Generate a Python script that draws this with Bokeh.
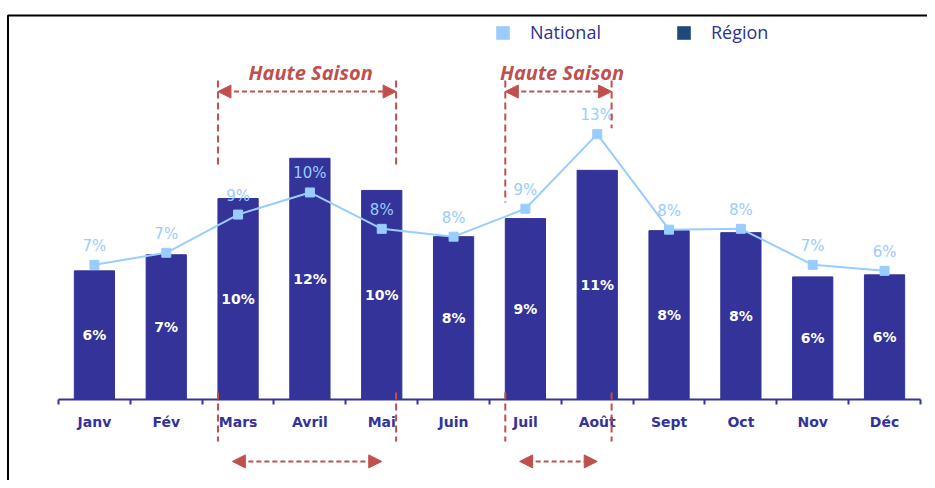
import numpy as np
from bokeh.plotting import figure
from bokeh.models import (Range1d, LinearAxis, FixedTicker, ColumnDataSource, Legend,
                          LegendItem, Arrow, NormalHead, Label, BoxAnnotation)
from bokeh.core.properties import value
from bokeh.embed import file_html
from bokeh.resources import INLINE

# ---- data ----
months = ["Janv", "Fév", "Mars", "Avril", "Mai", "Juin", "Juil", "Août", "Sept", "Oct", "Nov", "Déc"]
region = [6.4, 7.2, 10.0, 12.0, 10.4, 8.1, 9.0, 11.4, 8.4, 8.3, 6.1, 6.2]
national = [6.7, 7.3, 9.2, 10.3, 8.49, 8.1, 9.49, 13.2, 8.45, 8.49, 6.7, 6.4]
seasons = [("Mars", "Mai"), ("Juil", "Août")]
season_label = "Haute Saison"

# ---- styles ----
NAVY = "#333399"
LIGHT = "#99CCFF"
RED = "#C0504D"
LEG_REG = "#1F497D"

x = list(np.arange(len(months)) + 0.5)
src = ColumnDataSource(dict(
    x=x, region=region, national=national,
    rmid=[v / 2 for v in region],
    rlab=[f"{round(v)}%" for v in region],
    nlab=[f"{round(v)}%" for v in national],
))

p = figure(width=927, height=480, x_range=Range1d(-0.8075, 12.098), y_range=Range1d(-4.03, 19.85),
           output_backend="svg", toolbar_location=None,
           x_axis_location=None, y_axis_location=None,
           min_border_left=0, min_border_right=0, min_border_top=0, min_border_bottom=0)
p.outline_line_color = None
p.grid.visible = False
p.background_fill_color = "white"
p.border_fill_color = "white"

# frame border (top and left only visible)
p.add_layout(BoxAnnotation(left=-0.703, right=14, top=19.1, bottom=-6, fill_alpha=0,
                           line_color="black", line_alpha=1.0, line_width=2))

xaxis = LinearAxis(ticker=FixedTicker(ticks=x, minor_ticks=list(range(len(months) + 1))),
                   major_label_overrides={float(xx): m for xx, m in zip(x, months)},
                   fixed_location=0, bounds=(0, len(months)))
xaxis.axis_line_color = NAVY
xaxis.axis_line_width = 2
xaxis.major_tick_out = 0
xaxis.major_tick_in = 0
xaxis.minor_tick_out = 5
xaxis.minor_tick_in = 0
xaxis.minor_tick_line_color = NAVY
xaxis.minor_tick_line_width = 2
xaxis.major_label_standoff = 10
xaxis.major_label_text_color = NAVY
xaxis.major_label_text_font = "DejaVu Sans"
xaxis.major_label_text_font_size = "14px"
xaxis.major_label_text_font_style = "bold"
p.add_layout(xaxis, "below")

# ---- season annotations ----
top_y, arrow_y, text_y = 15.87, 15.32, 16.27
top_stop = [[11.6, 11.6], [9.8, 13.5]]
bot_top, bot_bottom, bot_arrow_y = 0.35, -2.09, -3.08
for (s, e), stops in zip(seasons, top_stop):
    x0 = months.index(s) + 0.22
    x1 = months.index(e) + 1 - 0.30
    for xx, stop in zip((x0, x1), stops):
        p.add_layout(Arrow(x_start=xx, y_start=top_y, x_end=xx, y_end=stop, end=None,
                           line_color=RED, line_width=2, line_dash="7 4"))
        p.add_layout(Arrow(x_start=xx, y_start=bot_top, x_end=xx, y_end=bot_bottom, end=None,
                           line_color=RED, line_width=2, line_dash="7 4"))
    p.add_layout(Arrow(x_start=x0, y_start=arrow_y, x_end=x1, y_end=arrow_y,
                       start=NormalHead(size=13, fill_color=RED, line_color=RED),
                       end=NormalHead(size=13, fill_color=RED, line_color=RED),
                       line_color=RED, line_width=2, line_dash="5 3"))
    p.add_layout(Arrow(x_start=x0 + 0.2, y_start=bot_arrow_y, x_end=x1 - 0.2, y_end=bot_arrow_y,
                       start=NormalHead(size=13, fill_color=RED, line_color=RED),
                       end=NormalHead(size=13, fill_color=RED, line_color=RED),
                       line_color=RED, line_width=2, line_dash="5 3"))
    p.add_layout(Label(x=(x0 + x1) / 2 + 0.05, y=text_y, text=season_label, text_align="center",
                       text_baseline="middle", text_color=RED, text_font="Open Sans",
                       text_font_size="20px", text_font_style="bold italic"))

# ---- data glyphs ----
p.vbar(x="x", top="region", width=0.56, source=src, fill_color=NAVY, line_color=NAVY)
p.line("x", "national", source=src, line_color=LIGHT, line_width=2)
p.scatter("x", "national", source=src, marker="square", size=9, color=LIGHT)
p.text(x="x", y="rmid", text="rlab", source=src, text_color="white", text_font=value("DejaVu Sans"),
       text_font_size="14px", text_font_style="bold", text_align="center", text_baseline="middle")
p.text(x="x", y="national", text="nlab", source=src, y_offset=-19, text_color=LIGHT,
       text_font=value("DejaVu Sans"), text_font_size="15px", text_align="center",
       text_baseline="middle")

# ---- legend (proxy renderers placed out of view) ----
r_nat = p.rect(x=[-50], y=[-50], width=1, height=1, fill_color=LIGHT, line_color=None)
r_reg = p.rect(x=[-50], y=[-50], width=1, height=1, fill_color=LEG_REG, line_color=None)
legend = Legend(items=[LegendItem(label="National", renderers=[r_nat]),
                       LegendItem(label="Région", renderers=[r_reg])],
                orientation="horizontal", location=(494, 436), glyph_width=17, glyph_height=17,
                label_standoff=19, spacing=74, padding=0, margin=0, border_line_color=None,
                background_fill_alpha=0, label_text_font="Open Sans", label_text_font_size="18px",
                label_text_color="#2E3192")
p.add_layout(legend)

open("out.html", "w").write(file_html(p, INLINE))
